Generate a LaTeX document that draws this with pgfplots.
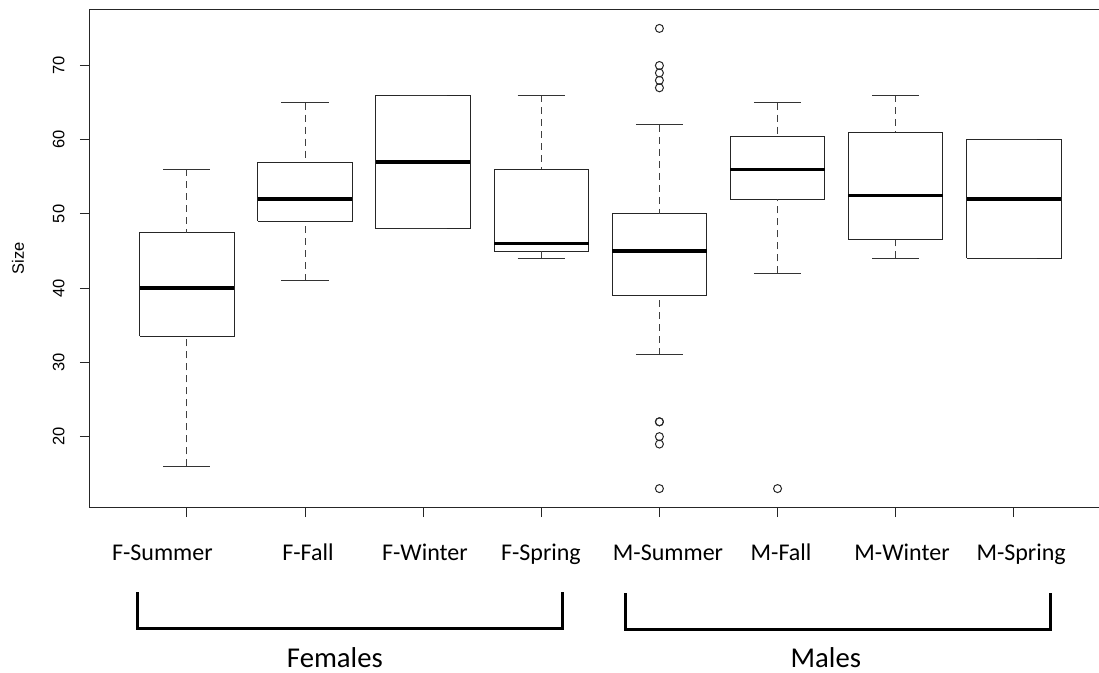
\documentclass[border=0pt]{standalone}
\usepackage{pgfplots}
\pgfplotsset{compat=1.18}
\usepackage{fontspec}
\setmainfont{Liberation Sans}
\newfontfamily\calibri{Carlito}
\begin{document}
\begin{tikzpicture}
\path[use as bounding box] (0,0) rectangle (1099pt,672pt);
\begin{axis}[
  at={(90pt,165pt)}, anchor=south west,
  scale only axis, width=1020.7pt, height=497pt,
  xmin=0.18, xmax=8.82, ymin=10.52, ymax=77.48,
  clip=false,
  unbounded coords=jump,
  axis line style={black!85, line width=1pt},
  tick style={black!85, line width=1pt},
  tick align=outside, major tick length=10pt,
  xtick pos=bottom, ytick pos=left,
  xtick={1,2,3,4,5,6,7,8}, xticklabels={},
  extra x ticks={0.793,2.025,3.015,3.997,5.073,6.03,7.054,8.062},
  extra x tick labels={F-Summer,F-Fall,F-Winter,F-Spring,M-Summer,M-Fall,M-Winter,M-Spring},
  extra x tick style={major tick length=0pt,
    xticklabel style={font=\calibri\fontsize{24}{28}\selectfont, anchor=base, yshift=-53pt}},
  ytick={20,30,40,50,60,70},
  yticklabel style={xshift=-12pt, rotate=90, anchor=south, font=\fontsize{16.5}{19}\selectfont},
  /pgf/number format/assume math mode=true,
  ylabel={Size},
  every axis y label/.style={at={(rel axis cs:0,0.5)}, xshift=-72pt, rotate=90, anchor=center, font=\fontsize{16.5}{19}\selectfont},
]
% boxes: Q1 and Q3
\addplot[black!85, line width=1pt, line cap=square, line join=miter, mark=none] coordinates {
 (0.6,33.5) (1.4,33.5) (1.4,47.5) (0.6,47.5) (0.6,33.5) (nan,nan)
 (1.6,49) (2.4,49) (2.4,57) (1.6,57) (1.6,49) (nan,nan)
 (2.6,48) (3.4,48) (3.4,66) (2.6,66) (2.6,48) (nan,nan)
 (3.6,45) (4.4,45) (4.4,56) (3.6,56) (3.6,45) (nan,nan)
 (4.6,39) (5.4,39) (5.4,50) (4.6,50) (4.6,39) (nan,nan)
 (5.6,52) (6.4,52) (6.4,60.5) (5.6,60.5) (5.6,52) (nan,nan)
 (6.6,46.5) (7.4,46.5) (7.4,61) (6.6,61) (6.6,46.5) (nan,nan)
 (7.6,44) (8.4,44) (8.4,60) (7.6,60) (7.6,44)
};
% medians
\addplot[black, line width=3.5pt, mark=none] coordinates {
 (0.6,40) (1.4,40) (nan,nan)
 (1.6,52) (2.4,52) (nan,nan)
 (2.6,57) (3.4,57) (nan,nan)
 (3.6,46) (4.4,46) (nan,nan)
 (4.6,45) (5.4,45) (nan,nan)
 (5.6,56) (6.4,56) (nan,nan)
 (6.6,52.5) (7.4,52.5) (nan,nan)
 (7.6,52) (8.4,52)
};
% whiskers (dashed), from whisker end to quartile
\addplot[black!75, line width=1pt, dash pattern=on 7pt off 5pt, mark=none] coordinates {
 (1,16) (1,33.5) (nan,nan) (1,56) (1,47.5) (nan,nan)
 (2,41) (2,49) (nan,nan) (2,65) (2,57) (nan,nan)
 (4,44) (4,45) (nan,nan) (4,66) (4,56) (nan,nan)
 (5,31) (5,39) (nan,nan) (5,62) (5,50) (nan,nan)
 (6,42) (6,52) (nan,nan) (6,65) (6,60.5) (nan,nan)
 (7,44) (7,46.5) (nan,nan) (7,66) (7,61)
};
% staples
\addplot[black!80, line width=1pt, mark=none] coordinates {
 (0.8,16) (1.2,16) (nan,nan) (0.8,56) (1.2,56) (nan,nan)
 (1.8,41) (2.2,41) (nan,nan) (1.8,65) (2.2,65) (nan,nan)
 (2.8,48) (3.2,48) (nan,nan) (2.8,66) (3.2,66) (nan,nan)
 (3.8,44) (4.2,44) (nan,nan) (3.8,66) (4.2,66) (nan,nan)
 (4.8,31) (5.2,31) (nan,nan) (4.8,62) (5.2,62) (nan,nan)
 (5.8,42) (6.2,42) (nan,nan) (5.8,65) (6.2,65) (nan,nan)
 (6.8,44) (7.2,44) (nan,nan) (6.8,66) (7.2,66) (nan,nan)
 (7.8,44) (8.2,44) (nan,nan) (7.8,60) (8.2,60)
};
% outliers
\addplot[black!85, only marks, mark=o, mark size=4pt, mark options={line width=1pt}] coordinates {
 (5,75) (5,70) (5,69) (5,68) (5,67) (5,22) (5,22) (5,20) (5,19) (5,13) (6,13)
};
% group brackets
\draw[black, line width=3pt, line join=miter] (axis cs:0.585,-0.96) -- (axis cs:0.585,-5.85) -- (axis cs:4.183,-5.85) -- (axis cs:4.183,-0.96);
\draw[black, line width=3pt, line join=miter] (axis cs:4.716,-1.09) -- (axis cs:4.716,-6.0) -- (axis cs:8.313,-6.0) -- (axis cs:8.313,-1.09);
\node[font=\calibri\fontsize{28.7}{32}\selectfont, anchor=base, inner sep=0pt] at (axis cs:2.253,-11.15) {Females};
\node[font=\calibri\fontsize{28.7}{32}\selectfont, anchor=base, inner sep=0pt] at (axis cs:6.409,-11.15) {Males};
\end{axis}
\end{tikzpicture}
\end{document}
